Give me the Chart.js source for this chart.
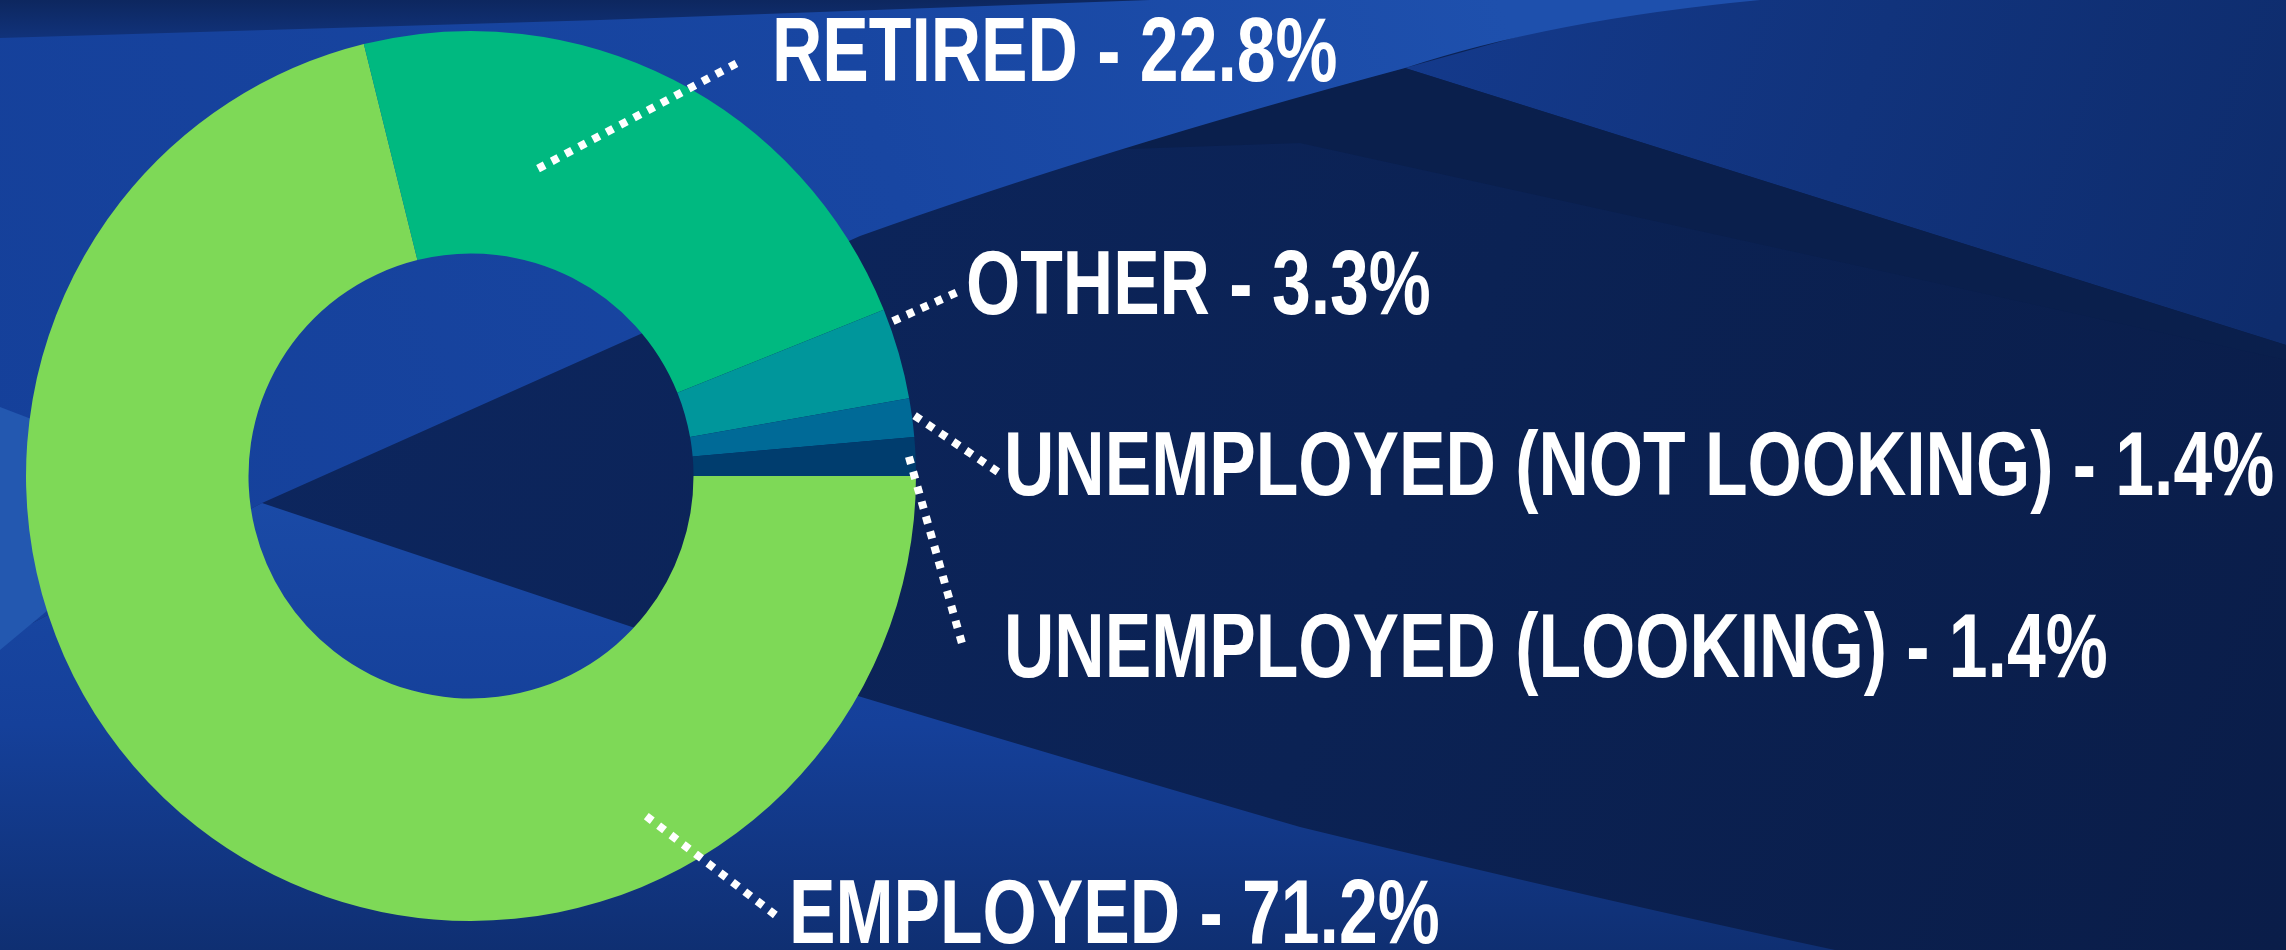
<!DOCTYPE html>
<html>
<head>
<meta charset="utf-8">
<script src="https://cdn.jsdelivr.net/npm/chart.js@4.4.1/dist/chart.umd.min.js"></script>
<style>
  html, body { margin: 0; padding: 0; background: #0b2254; overflow: hidden; }
  #chart { display: block; }
</style>
</head>
<body>
<canvas id="chart" width="2286" height="950"></canvas>
<script>
// data
const categories = ["EMPLOYED", "RETIRED", "OTHER", "UNEMPLOYED (NOT LOOKING)", "UNEMPLOYED (LOOKING)"];
const shares = [71.2, 22.8, 3.3, 1.4, 1.4];
const sliceColors = ["#7ed957", "#00b980", "#00969b", "#006a97", "#003d6e"];

// callout layout: label left/baseline, where the dotted leader starts inside the slice
// (fraction of the slice's sweep, fraction of outer radius) and where it ends
const labelAt = [[789, 943], [772, 81], [966, 314], [1004, 495], [1004, 677]];
const leaderFrom = [[0.245, 0.86], [0.32, 0.707], [0.15, 1.01], [0.46, 1.006], [0.5, 0.985]];
const leaderTo = [[778, 917], [741, 61], [960, 291], [998, 472], [963, 647]];

const LABEL_FONT_PX = 85;
const LABEL_STRETCH_Y = 1.07;

function pickFont(ctx) {
    // use a narrow face if there is one, otherwise squeeze the regular one
    const probe = "UNEMPLOYED (NOT LOOKING) - 1.4%";
    ctx.font = `bold ${LABEL_FONT_PX}px "Liberation Sans Narrow", monospace`;
    const a = ctx.measureText(probe).width;
    ctx.font = `bold ${LABEL_FONT_PX}px monospace`;
    const b = ctx.measureText(probe).width;
    if (Math.abs(a - b) > 1) {
        return {font: `bold ${LABEL_FONT_PX}px "Liberation Sans Narrow"`, squeeze: 1};
    }
    return {font: `bold ${LABEL_FONT_PX}px "Liberation Sans", Arial, sans-serif`, squeeze: 0.82};
}

function poly(ctx, pts, fill) {
    ctx.beginPath();
    ctx.moveTo(pts[0][0], pts[0][1]);
    for (let i = 1; i < pts.length; i++) {
        ctx.lineTo(pts[i][0], pts[i][1]);
    }
    ctx.closePath();
    ctx.fillStyle = fill;
    ctx.fill();
}

const backdrop = {
    id: "backdrop",
    beforeDraw(chart) {
        const ctx = chart.ctx;
        const W = chart.width, H = chart.height;
        ctx.save();

        let g = ctx.createLinearGradient(0, 0, W, H);
        g.addColorStop(0, "#0d2761");
        g.addColorStop(0.6, "#0b2254");
        g.addColorStop(1, "#0a1d49");
        ctx.fillStyle = g;
        ctx.fillRect(0, 0, W, H);

        // top right swoosh above the dark streak
        g = ctx.createLinearGradient(1400, 0, 2286, 300);
        g.addColorStop(0, "#143a8c");
        g.addColorStop(1, "#0e2c6c");
        poly(ctx, [[1650, 0], [2286, 0], [2286, 345], [1405, 68]], g);

        // thin dark streak
        poly(ctx, [[1405, 68], [2286, 345], [2286, 360], [1300, 143], [1100, 150]], "#0a1f4c");

        // bright band, upper left
        g = ctx.createLinearGradient(0, 500, 1500, 0);
        g.addColorStop(0, "#15409a");
        g.addColorStop(0.6, "#1846a2");
        g.addColorStop(1, "#1e50ad");
        ctx.beginPath();
        ctx.moveTo(0, 0);
        ctx.lineTo(1760, 0);
        ctx.quadraticCurveTo(1550, 20, 1405, 68);
        ctx.quadraticCurveTo(1100, 150, 860, 236);
        ctx.lineTo(262, 503);
        ctx.lineTo(0, 640);
        ctx.closePath();
        ctx.fillStyle = g;
        ctx.fill();

        // darker strip along the top edge
        g = ctx.createLinearGradient(0, 0, 0, 40);
        g.addColorStop(0, "#0d275f");
        g.addColorStop(1, "#11337c");
        poly(ctx, [[0, 0], [1150, 0], [600, 20], [0, 38]], g);

        // bright band, lower left
        g = ctx.createLinearGradient(0, 500, 0, 950);
        g.addColorStop(0, "#1a4aa6");
        g.addColorStop(0.5, "#15409a");
        g.addColorStop(1, "#0f2f72");
        ctx.beginPath();
        ctx.moveTo(262, 503);
        ctx.lineTo(641, 630);
        ctx.quadraticCurveTo(1000, 740, 1300, 827);
        ctx.quadraticCurveTo(1600, 900, 1835, 950);
        ctx.lineTo(0, 950);
        ctx.lineTo(0, 640);
        ctx.closePath();
        ctx.fillStyle = g;
        ctx.fill();

        // pale sliver at the far left
        poly(ctx, [[0, 407], [60, 430], [60, 600], [0, 650]], "#2358b0");

        ctx.restore();
    }
};

const callouts = {
    id: "callouts",
    afterDatasetsDraw(chart) {
        const ctx = chart.ctx;
        const arcs = chart.getDatasetMeta(0).data;
        const face = pickFont(ctx);
        ctx.save();

        ctx.strokeStyle = "#ffffff";
        ctx.lineWidth = 8;
        ctx.setLineDash([7.5, 8]);
        arcs.forEach((arc, i) => {
            const p = arc.getProps(["x", "y", "startAngle", "endAngle", "outerRadius"], true);
            const ang = p.startAngle + leaderFrom[i][0] * (p.endAngle - p.startAngle);
            const r = leaderFrom[i][1] * p.outerRadius;
            ctx.beginPath();
            ctx.moveTo(p.x + r * Math.cos(ang), p.y + r * Math.sin(ang));
            ctx.lineTo(leaderTo[i][0], leaderTo[i][1]);
            ctx.stroke();
        });
        ctx.setLineDash([]);

        ctx.fillStyle = "#ffffff";
        ctx.font = face.font;
        ctx.textAlign = "left";
        ctx.textBaseline = "alphabetic";
        categories.forEach((name, i) => {
            const text = name + " - " + shares[i].toFixed(1) + "%";
            ctx.save();
            ctx.translate(labelAt[i][0], labelAt[i][1]);
            ctx.scale(face.squeeze, LABEL_STRETCH_Y);
            ctx.fillText(text, 0, 0);
            ctx.restore();
        });

        ctx.restore();
    }
};

new Chart(document.getElementById("chart"), {
    type: "doughnut",
    data: {
        labels: categories,
        datasets: [{
            data: shares,
            backgroundColor: sliceColors,
            borderWidth: 0
        }]
    },
    options: {
        responsive: false,
        animation: false,
        rotation: 90,
        cutout: "50%",
        layout: {
            padding: {left: 26, right: 1370, top: 31, bottom: 29}
        },
        plugins: {
            legend: {display: false},
            tooltip: {enabled: false}
        }
    },
    plugins: [backdrop, callouts]
});
</script>
</body>
</html>
